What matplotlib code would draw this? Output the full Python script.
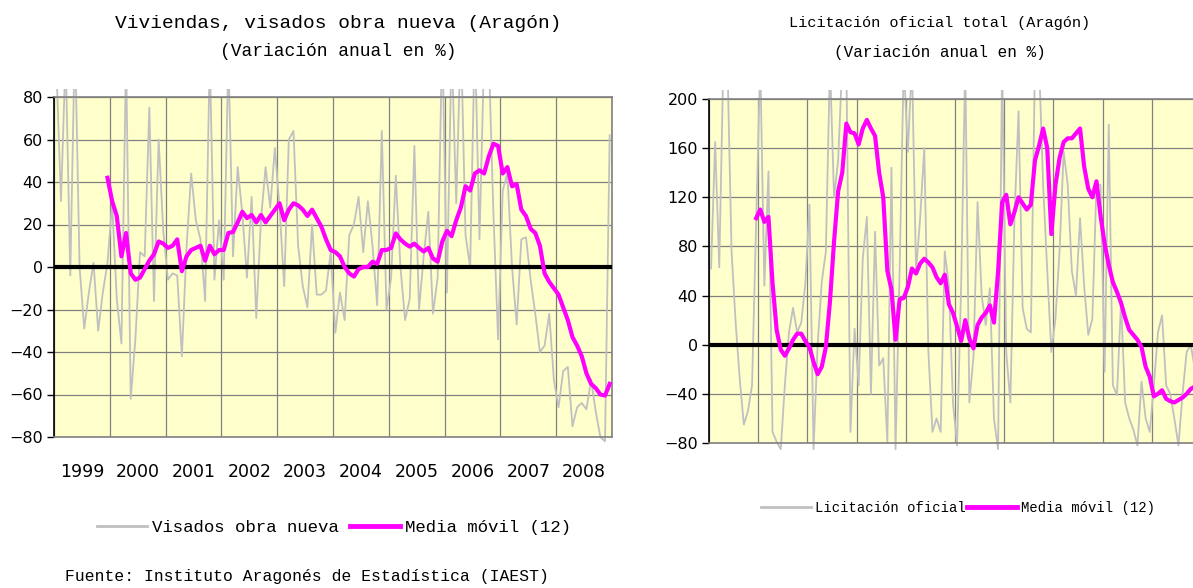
import numpy as np
import matplotlib
matplotlib.use('Agg')
import matplotlib.pyplot as plt
from matplotlib.lines import Line2D
from matplotlib.patches import Rectangle

# monthly data, Jan 1999 .. Dec 2008 (annual % change)
years = ['1999', '2000', '2001', '2002', '2003', '2004', '2005', '2006', '2007', '2008']

visados = [95, 31, 100, -4, 110, 0, -29, -12, 2, -30, -12, 2,
           30, -15, -36, 100, -62, -34, 7, 5, 75, -16, 60, 17,
           -6, -3, -4, -42, 9, 44, 22, 13, -16, 100, -6, 22,
           -6, 100, 5, 47, 25, -5, 33, -24, 22, 47, 28, 56,
           28, -9, 60, 64, 10, -9, -19, 20, -13, -13, -11, 7,
           -31, -12, -25, 15, 20, 33, 7, 31, 10, -18, 64, -20,
           -5, 43, 0, -25, -15, 57, -20, 5, 26, -22, -5, 110,
           -12, 105, 30, 110, 15, 0, 110, 13, 100, 100, 25, -34,
           36, 44, 0, -27, 13, 14, -6, -22, -40, -37, -22, -53,
           -66, -49, -47, -75, -66, -64, -67, -53, -68, -80, -82, 62]

# 12-month moving average, Dec 1999 .. Dec 2008
visados_mm = [42, 31, 24, 5, 16, -3, -6, -5, -1, 3, 6, 12,
              11, 9, 10, 13, -2, 5, 8, 9, 10, 3, 10, 6,
              8, 8, 16, 16.5, 21, 26, 23, 24.5, 21, 24.5, 21, 24,
              27, 30, 22, 27, 30, 29, 27, 24, 27, 23, 19, 13,
              8, 7, 5, 0, -3, -4.5, -1, 0, 0, 2.5, 1.5, 8,
              8, 9, 15.8, 13, 11, 9.6, 11, 9, 7.3, 9, 4, 2.5,
              12, 17, 14.5, 22, 28, 38, 36, 44, 45.5, 44, 52, 58,
              57, 44, 47, 38, 39, 27, 24, 18, 16, 10, -3, -7,
              -10, -13, -19, -25, -33, -37, -42, -50, -55, -57, -60, -60.5,
              -55]

licitacion = [62, 165, 63, 230, 230, 76, 18, -28, -65, -54, -33, 100,
              230, 48, 141, -71, -79, -85, -33, 10, 30, 10, 18, 50,
              114, -85, 0, 51, 76, 230, 120, 150, 230, 230, -71, 13,
              -33, 70, 104, -40, 92, -17, -11, -79, 144, -85, 62, 230,
              157, 230, 60, 103, 160, -5, -71, -60, -71, 76, 48, -47,
              -82, 48, 230, -47, -10, 116, 40, 16, 46, -60, -85, 230,
              -6, -47, 103, 190, 30, 13, 10, 230, 230, 130, 60, -6,
              21, 76, 157, 130, 60, 40, 103, 48, 8, 21, 130, 130,
              -22, 179, -33, -41, 35, -47, -60, -69, -82, -30, -60, -71,
              -33, 10, 24, -33, -40, -60, -82, -40, -6, 0, -20, -10]

licitacion_mm = [103, 110, 100, 104, 50, 12, -4, -9, -3, 4, 9, 9,
                 3, -2, -14, -24, -18, -2, 35, 84, 125, 140, 180, 173,
                 172, 163, 176, 183, 176, 170, 140, 120, 60, 45, 4, 37,
                 38, 47, 62, 58, 66, 70, 67, 63, 55, 50, 57, 33,
                 26, 15, 3, 20, 5, -3, 16, 22, 26, 32, 18, 59,
                 116, 122, 98, 108, 120, 115, 110, 114, 150, 162, 176, 160,
                 90, 130, 152, 165, 168, 168, 172, 176, 145, 127, 120, 133,
                 105, 82, 65, 51, 43, 34, 22, 12, 8, 4, -2, -18,
                 -26, -42, -40, -37, -44, -46, -47, -45, -43, -40, -36, -34,
                 -33]

months = np.arange(len(visados))
months_mm = np.arange(12 - 1, len(visados))

GRAY = '#C0C0C0'
MAGENTA = '#FF00FF'
GRID = '#808080'
TXT = 'Liberation Mono'

fig = plt.figure(figsize=(11.93, 5.88), dpi=100)


def draw_panel(ax, serie, media, ymin, ymax, ystep, show_years):
    ax.set_facecolor('#FFFFCC')
    ln, = ax.plot(months, serie, color=GRAY, lw=1.3, zorder=2)
    # the original lets the raw series poke a little past the frame
    clip = Rectangle((0, -0.025), 1, 1.05, transform=ax.transAxes)
    ln.set_clip_path(clip)
    ax.axhline(0, color='black', lw=3, zorder=3)
    ax.plot(months_mm, media, color=MAGENTA, lw=3, zorder=4,
            solid_joinstyle='round')

    ax.set_xlim(-0.5, len(serie) - 0.5)
    ax.set_ylim(ymin, ymax)
    ax.set_yticks(np.arange(ymin, ymax + 1, ystep))
    ax.set_xticks(np.arange(-0.5, len(serie), 12))
    ax.set_xticklabels([])
    ax.grid(True, which='major', color=GRID, lw=0.9, zorder=1)
    ax.set_axisbelow(True)
    ax.tick_params(axis='x', which='both', length=0)
    ax.tick_params(axis='y', length=5, width=1, color='black',
                   labelsize=11.5, pad=3)
    if show_years:
        ax.set_xticks(np.arange(5.5, len(serie), 12), minor=True)
        ax.set_xticklabels(years, minor=True, fontsize=12.5)
        ax.tick_params(axis='x', which='minor', pad=19)
    for side in ['top', 'right', 'bottom']:
        ax.spines[side].set_color(GRID)
        ax.spines[side].set_linewidth(1.2)
    ax.spines['left'].set_color('black')
    ax.spines['left'].set_linewidth(1.2)


ax1 = fig.add_axes([54 / 1193, 1 - 437 / 588, 558 / 1193, 340 / 588])
draw_panel(ax1, visados, visados_mm, -80, 80, 20, True)

# right panel runs past the right edge, as in the original capture
ax2 = fig.add_axes([709 / 1193, 1 - 443 / 588, 492 / 1193, 344 / 588])
draw_panel(ax2, licitacion, licitacion_mm, -80, 200, 40, False)

# titles
fig.text(338 / 1193, 1 - 23 / 588, 'Viviendas, visados obra nueva (Aragón)',
         ha='center', va='center', family=TXT, fontsize=14)
fig.text(338 / 1193, 1 - 52 / 588, '(Variación anual en %)',
         ha='center', va='center', family=TXT, fontsize=13)
fig.text(940 / 1193, 1 - 23 / 588, 'Licitación oficial total (Aragón)',
         ha='center', va='center', family=TXT, fontsize=11)
fig.text(940 / 1193, 1 - 52 / 588, '(Variación anual en %)',
         ha='center', va='center', family=TXT, fontsize=11.5)

# legends
h_gray = Line2D([], [], color=GRAY, lw=2)
h_mag = Line2D([], [], color=MAGENTA, lw=3.5)
fig.legend([h_gray, h_mag], ['Visados obra nueva', 'Media móvil (12)'],
           loc='center', bbox_to_anchor=(334 / 1193, 1 - 527 / 588), ncol=2,
           frameon=False, prop={'family': TXT, 'size': 12.5},
           handlelength=2.9, handletextpad=0.3, columnspacing=0.6)
fig.legend([h_gray, h_mag], ['Licitación oficial', 'Media móvil (12)'],
           loc='center', bbox_to_anchor=(958 / 1193, 1 - 508 / 588), ncol=2,
           frameon=False, prop={'family': TXT, 'size': 10},
           handlelength=3.6, handletextpad=0.3, columnspacing=0.1)

fig.text(65 / 1193, 1 - 577 / 588,
         'Fuente: Instituto Aragonés de Estadística (IAEST)',
         ha='left', va='center', family=TXT, fontsize=11.8)

fig.savefig('out.png', dpi=100)
